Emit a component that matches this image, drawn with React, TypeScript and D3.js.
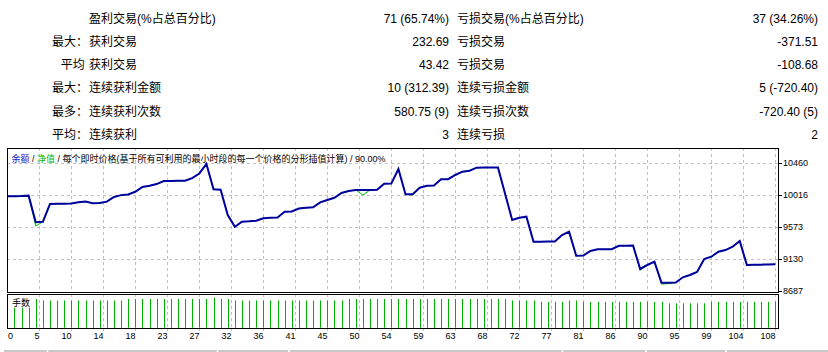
import React, { useRef, useEffect } from 'react';
import * as d3 from 'd3';

// summary table
const leftPrefixes = ['', '最大：', '平均\u00a0', '最大：', '最多：', '平均：'];
const leftLabels = ['盈利交易(%占总百分比)', '获利交易', '获利交易', '连续获利金额', '连续获利次数', '连续获利'];
const leftValues = ['71 (65.74%)', '232.69', '43.42', '10 (312.39)', '580.75 (9)', '3'];
const rightLabels = ['亏损交易(%占总百分比)', '亏损交易', '亏损交易', '连续亏损金额', '连续亏损次数', '连续亏损'];
const rightValues = ['37 (34.26%)', '-371.51', '-108.68', '5 (-720.40)', '-720.40 (5)', '2'];

// balance after each trade (index 0 = start)
const balance = [
	10000, 10000, 10002, 10008, 9640, 9645, 9892, 9894, 9896, 9900,
	9915, 9925, 9902, 9905, 9925, 9990, 10015, 10025, 10062, 10128,
	10145, 10168, 10210, 10212, 10213, 10215, 10250, 10315, 10446, 10095,
	10090, 9740, 9577, 9647, 9652, 9660, 9694, 9703, 9705, 9785,
	9788, 9830, 9840, 9846, 9915, 9947, 9979, 10045, 10072, 10086,
	10086, 10086, 10088, 10173, 10175, 10377, 10026, 10028, 10118, 10145,
	10147, 10234, 10236, 10294, 10340, 10354, 10395, 10396, 10397, 10398,
	10035, 9670, 9702, 9716, 9370, 9370, 9371, 9372, 9463, 9508,
	9176, 9178, 9241, 9264, 9264, 9266, 9314, 9314, 9316, 8992,
	9047, 9093, 8802, 8802, 8804, 8877, 8909, 8950, 9130, 9162,
	9231, 9254, 9300, 9380, 9047, 9050, 9052, 9055, 9058,
];

// equity drawdowns visible under the balance line
const equityDips = [
	{ i: 4, v: 9587 },
	{ i: 50, v: 10017 },
	{ i: 57, v: 10016 },
	{ i: 89, v: 8975 },
	{ i: 92, v: 8782 },
	{ i: 93, v: 8790 },
];

// lots per trade (trade 1..108)
const lots = [
	0.14, 0.14, 0.14, 0.20,
	0.19, 0.19, 0.19, 0.19, 0.19, 0.19, 0.19, 0.19, 0.19, 0.19, 0.19, 0.19,
	0.20, 0.20, 0.20, 0.20, 0.20, 0.20, 0.20, 0.20, 0.20, 0.20, 0.20, 0.20,
	0.21, 0.20, 0.20, 0.19,
	0.19, 0.19, 0.19, 0.19, 0.19, 0.19, 0.19, 0.19, 0.19,
	0.19, 0.19, 0.19, 0.19, 0.19, 0.19,
	0.20, 0.20, 0.20, 0.20, 0.20, 0.20, 0.20, 0.20, 0.20,
	0.20, 0.20, 0.20, 0.20, 0.20, 0.20, 0.20, 0.20, 0.20, 0.20,
	0.20, 0.20, 0.20, 0.20,
	0.19, 0.19, 0.19, 0.19,
	0.18, 0.18, 0.18, 0.18,
	0.19, 0.19,
	0.18, 0.18, 0.18, 0.18, 0.18, 0.18, 0.18, 0.18, 0.18, 0.18, 0.18, 0.18,
	0.17, 0.17, 0.17, 0.17, 0.17, 0.17,
	0.18, 0.18, 0.18, 0.18, 0.18, 0.18, 0.18, 0.18, 0.18, 0.18,
];

const yTicks = [10460, 10016, 9573, 9130, 8687];
const xTickLabels = ['0', '5', '10', '14', '18', '23', '27', '32', '36', '41', '45', '50', '54', '59', '63', '68', '72', '77', '81', '86', '90', '95', '99', '104', '108'];

const W = 828;
const H = 352;
const panelLeft = 7;
const panelRight = 778;
const mainTop = 148;
const mainBottom = 292;
const volTop = 294;
const volBottom = 328;

const BLUE = '#0000a0';
const GREEN = '#00b000';
const GRID = '#c0c0c0';
const latin = "Tahoma, 'Liberation Sans', 'Noto Sans CJK SC', sans-serif";
const cjk = "'Liberation Sans', 'Noto Sans CJK SC', sans-serif";

const App: React.FC = () => {
	const svgRef = useRef<SVGSVGElement | null>(null);

	useEffect(() => {
		document.body.style.margin = '0';
		if (!svgRef.current) return;
		const svg = d3.select(svgRef.current);
		svg.selectAll('*').remove();

		svg.append('rect').attr('width', W).attr('height', H).attr('fill', '#fff');

		// table rows
		const rowY = (r: number) => 22.7 + r * 23.2;
		const table = svg.append('g').attr('font-family', cjk).attr('font-size', 12).attr('fill', '#000');
		leftPrefixes.forEach((t, r) => {
			table.append('text').attr('x', 88).attr('y', rowY(r)).attr('text-anchor', 'end').text(t);
		});
		leftLabels.forEach((t, r) => {
			table.append('text').attr('x', 89).attr('y', rowY(r)).text(t);
		});
		leftValues.forEach((t, r) => {
			table.append('text').attr('x', 449).attr('y', rowY(r)).attr('text-anchor', 'end').text(t);
		});
		rightLabels.forEach((t, r) => {
			table.append('text').attr('x', 457).attr('y', rowY(r)).text(t);
		});
		rightValues.forEach((t, r) => {
			table.append('text').attr('x', 818).attr('y', rowY(r)).attr('text-anchor', 'end').text(t);
		});

		const n = balance.length - 1;
		const x = d3.scaleLinear().domain([0, n]).range([7.3, 775.3]);
		const y = d3.scaleLinear().domain([8687, 10460]).range([291, 163]);
		const yVol = d3.scaleLinear().domain([0, 0.233]).range([volBottom - 0.3, volTop + 0.3]);

		// grid
		const grid = svg.append('g').attr('stroke', GRID).attr('stroke-dasharray', '3,3').attr('stroke-width', 1);
		yTicks.slice(0, -1).forEach(v => {
			grid.append('line')
				.attr('x1', panelLeft).attr('x2', panelRight)
				.attr('y1', Math.round(y(v)) + 0.5).attr('y2', Math.round(y(v)) + 0.5);
		});
		const gridX = xTickLabels.map((_, k) => Math.round(x(k * n / (xTickLabels.length - 1))) + 0.5);
		gridX.slice(1).forEach(gx => {
			grid.append('line').attr('x1', gx).attr('x2', gx).attr('y1', mainTop).attr('y2', mainBottom);
			grid.append('line').attr('x1', gx).attr('x2', gx).attr('y1', volTop).attr('y2', volBottom);
			grid.append('line').attr('x1', gx).attr('x2', gx).attr('y1', volBottom).attr('y2', volBottom + 4)
				.attr('stroke-dasharray', null);
		});

		// header
		const header = svg.append('text')
			.attr('x', 11.5).attr('y', 161.5)
			.attr('font-family', cjk).attr('font-size', 9).attr('fill', '#000');
		header.append('tspan').attr('fill', '#2020c0').text('余额');
		header.append('tspan').text(' / ');
		header.append('tspan').attr('fill', '#00b000').text('净值');
		header.append('tspan').text(' / 每个即时价格(基于所有可利用的最小时段的每一个价格的分形插值计算) / 90.00%');

		// equity then balance
		const equity = balance.map((v, i) => {
			const dip = equityDips.find(d => d.i === i);
			return dip ? dip.v : v;
		});
		const line = d3.line<number>().x((_, i) => x(i)).y(d => y(d));
		svg.append('path').datum(equity)
			.attr('fill', 'none').attr('stroke', '#00c000').attr('stroke-width', 1)
			.attr('d', line);
		svg.append('path').datum(balance)
			.attr('fill', 'none').attr('stroke', BLUE).attr('stroke-width', 2)
			.attr('stroke-linejoin', 'miter')
			.attr('d', line);

		// volume bars
		svg.append('g').selectAll('line').data(lots).enter().append('line')
			.attr('x1', (_, i) => Math.round(x(i + 1)) + 0.5)
			.attr('x2', (_, i) => Math.round(x(i + 1)) + 0.5)
			.attr('y1', yVol(0))
			.attr('y2', d => yVol(d))
			.attr('stroke', GREEN).attr('stroke-width', 1);

		svg.append('text').attr('x', 12).attr('y', 305.5)
			.attr('font-family', cjk).attr('font-size', 9).attr('fill', '#000').text('手数');

		// panel borders
		const border = svg.append('g').attr('fill', 'none').attr('stroke', '#000').attr('stroke-width', 1);
		border.append('rect').attr('x', panelLeft + 0.5).attr('y', mainTop + 0.5)
			.attr('width', panelRight - panelLeft).attr('height', mainBottom - mainTop);
		border.append('rect').attr('x', panelLeft + 0.5).attr('y', volTop + 0.5)
			.attr('width', panelRight - panelLeft).attr('height', volBottom - volTop);

		// right axis
		const yAxis = svg.append('g').attr('font-family', latin).attr('font-size', 9).attr('fill', '#000');
		yTicks.forEach(v => {
			yAxis.append('line')
				.attr('x1', panelRight + 0.5).attr('x2', panelRight + 4)
				.attr('y1', Math.round(y(v)) + 0.5).attr('y2', Math.round(y(v)) + 0.5)
				.attr('stroke', '#000');
			yAxis.append('text').attr('x', 783).attr('y', y(v) + 3.3).text(String(v));
		});

		// bottom axis labels
		const xAxis = svg.append('g').attr('font-family', latin).attr('font-size', 9).attr('fill', '#000');
		xTickLabels.forEach((t, k) => {
			xAxis.append('text')
				.attr('x', k === 0 ? 8 : gridX[k])
				.attr('y', 339)
				.attr('text-anchor', k === 0 ? 'start' : 'end')
				.text(t);
		});

		// window tab strip
		const tabs = [[4, 46.7], [48.3, 216.7], [218.3, 288.3], [290, 561.7], [563.3, 645], [646.7, 725], [726.7, 828]];
		tabs.forEach(([a, b]) => {
			svg.append('rect').attr('x', a).attr('y', 350).attr('width', b - a).attr('height', 2).attr('fill', '#c8c8c8');
		});
	}, []);

	return <svg ref={svgRef} width={W} height={H} style={{ display: 'block' }} />;
};

export default App;
